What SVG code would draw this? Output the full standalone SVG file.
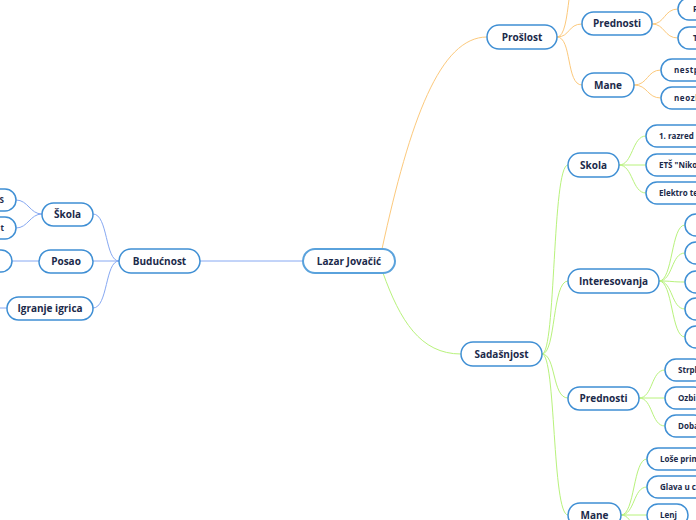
<svg xmlns="http://www.w3.org/2000/svg" width="696" height="520" viewBox="0 0 696 520">
<style>
.n rect{fill:#fff;stroke:#3f8fd4;stroke-width:1.5}
.root rect{stroke:#5aa2dc;stroke-width:2}
.t{font-family:"Open Sans","Noto Sans",sans-serif;font-weight:bold;font-size:10px;fill:#1b2a4a}
.s{font-family:"Open Sans","Noto Sans",sans-serif;font-weight:bold;font-size:8px;fill:#1b2a4a}
.c path{fill:none;stroke-width:1}
.o{stroke:#fcc97c}
.g{stroke:#b8f27c}
.b{stroke:#86a8f2}
</style>
<rect width="696" height="520" fill="#fff"/>
<g id="connectors" class="c">
<path class="o" d="M382 249 C410 120 440 37 487 37"/>
<path class="o" d="M557 37 C572 37 566 -40 582 -40"/>
<path class="o" d="M557 37 C570 37 568 24 582 24"/>
<path class="o" d="M557 37 C572 37 566 85 582 85"/>
<path class="o" d="M652 24 C665 24 664 9 678 9"/>
<path class="o" d="M652 24 C665 24 664 38 678 38"/>
<path class="o" d="M634 85 C648 85 647 70 661 70"/>
<path class="o" d="M634 85 C648 85 647 98 661 98"/>
<path class="g" d="M383 273 C400 320 420 354 461 354"/>
<path class="g" d="M542 354 C556 354 552 165 568 165"/>
<path class="g" d="M542 354 C556 354 552 281 568 281"/>
<path class="g" d="M542 354 C556 354 552 398 568 398"/>
<path class="g" d="M542 354 C556 354 552 515 568 515"/>
<path class="g" d="M619 165 C633 165 632 136 646 136"/>
<path class="g" d="M619 165 H646"/>
<path class="g" d="M619 165 C633 165 632 193 646 193"/>
<path class="g" d="M659 281 C673 281 671 225 685 225"/>
<path class="g" d="M659 281 C673 281 671 253 685 253"/>
<path class="g" d="M659 281 C673 281 671 282 685 282"/>
<path class="g" d="M659 281 C673 281 671 309 685 309"/>
<path class="g" d="M659 281 C673 281 671 337 685 337"/>
<path class="g" d="M639 398 C653 398 651 370 665 370"/>
<path class="g" d="M639 398 H665"/>
<path class="g" d="M639 398 C653 398 651 426 665 426"/>
<path class="g" d="M621 515 C635 515 633 459 647 459"/>
<path class="g" d="M621 515 C635 515 633 487 647 487"/>
<path class="g" d="M621 515 H647"/>
<path class="g" d="M621 515 C635 515 633 543 647 543"/>
<path class="b" d="M200 261 H303"/>
<path class="b" d="M119 261 C105 261 108 214 93 214"/>
<path class="b" d="M119 261 H93"/>
<path class="b" d="M119 261 C105 261 108 308 93 308"/>
<path class="b" d="M42 214 C30 214 28 200 16 200"/>
<path class="b" d="M42 214 C30 214 28 228 16 228"/>
<path class="b" d="M39 261 H12"/>
<path class="b" d="M7 308 H-5"/>
</g>
<g id="lazar" class="n root"><rect x="303" y="249" width="92" height="24" rx="12"/><text class="t" x="349" y="264.5" text-anchor="middle">Lazar Jovačić</text></g>
<g id="buducnost" class="n"><rect x="119" y="249" width="81" height="24" rx="12"/><text class="t" x="159.5" y="264.5" text-anchor="middle">Budućnost</text></g>
<g id="skola-b" class="n"><rect x="42" y="203" width="51" height="23" rx="11.5"/><text class="t" x="67.5" y="218" text-anchor="middle">Škola</text></g>
<g id="posao" class="n"><rect x="39" y="250" width="54" height="23" rx="11.5"/><text class="t" x="66" y="264.5" text-anchor="middle">Posao</text></g>
<g id="igranje" class="n"><rect x="7" y="297" width="86" height="23" rx="11.5"/><text class="t" x="50" y="312" text-anchor="middle">Igranje igrica</text></g>
<g id="skola-b1" class="n"><rect x="-40" y="189" width="56" height="22" rx="11"/><text class="s" x="4" y="203" text-anchor="end">S</text></g>
<g id="skola-b2" class="n"><rect x="-40" y="217" width="56" height="22" rx="11"/><text class="s" x="4" y="231" text-anchor="end">t</text></g>
<g id="posao-1" class="n"><rect x="-30" y="250" width="42" height="22" rx="11"/></g>
<g id="proslost" class="n"><rect x="487" y="25" width="70" height="24" rx="12"/><text class="t" x="522" y="40.5" text-anchor="middle">Prošlost</text></g>
<g id="prednosti-p" class="n"><rect x="582" y="12" width="70" height="23" rx="11.5"/><text class="t" x="617" y="27" text-anchor="middle">Prednosti</text></g>
<g id="pp1" class="n"><rect x="678" y="-2" width="40" height="22" rx="11"/><text class="s" x="693" y="12">P</text></g>
<g id="pp2" class="n"><rect x="678" y="27" width="40" height="22" rx="11"/><text class="s" x="693" y="41">T</text></g>
<g id="mane-p" class="n"><rect x="582" y="73" width="52" height="24" rx="12"/><text class="t" x="608" y="88.5" text-anchor="middle">Mane</text></g>
<g id="mp1" class="n"><rect x="661" y="59" width="50" height="22" rx="11"/><text class="s" x="674" y="73" letter-spacing="0.6">nestp</text></g>
<g id="mp2" class="n"><rect x="661" y="87" width="50" height="22" rx="11"/><text class="s" x="674" y="101" letter-spacing="0.6">neozl</text></g>
<g id="sadasnjost" class="n"><rect x="461" y="342" width="81" height="24" rx="12"/><text class="t" x="501.5" y="357.5" text-anchor="middle">Sadašnjost</text></g>
<g id="skola-s" class="n"><rect x="568" y="153" width="51" height="24" rx="12"/><text class="t" x="593.5" y="168.5" text-anchor="middle">Skola</text></g>
<g id="ss1" class="n"><rect x="646" y="125" width="60" height="22" rx="11"/><text class="s" x="659" y="139">1. razred</text></g>
<g id="ss2" class="n"><rect x="646" y="154" width="60" height="22" rx="11"/><text class="s" x="659" y="168">ETŠ "Niko</text></g>
<g id="ss3" class="n"><rect x="646" y="182" width="60" height="22" rx="11"/><text class="s" x="659" y="196">Elektro te</text></g>
<g id="interesovanja" class="n"><rect x="568" y="269" width="91" height="24" rx="12"/><text class="t" x="613.5" y="284.5" text-anchor="middle">Interesovanja</text></g>
<g id="i1" class="n"><rect x="685" y="214" width="30" height="22" rx="11"/></g>
<g id="i2" class="n"><rect x="685" y="242" width="30" height="22" rx="11"/></g>
<g id="i3" class="n"><rect x="685" y="271" width="30" height="22" rx="11"/></g>
<g id="i4" class="n"><rect x="685" y="298" width="30" height="22" rx="11"/></g>
<g id="i5" class="n"><rect x="685" y="326" width="30" height="22" rx="11"/></g>
<g id="prednosti-s" class="n"><rect x="568" y="387" width="71" height="23" rx="11.5"/><text class="t" x="603.5" y="402" text-anchor="middle">Prednosti</text></g>
<g id="ps1" class="n"><rect x="665" y="359" width="40" height="22" rx="11"/><text class="s" x="678" y="373">Strpl</text></g>
<g id="ps2" class="n"><rect x="665" y="387" width="40" height="22" rx="11"/><text class="s" x="678" y="401">Ozbi</text></g>
<g id="ps3" class="n"><rect x="665" y="415" width="40" height="22" rx="11"/><text class="s" x="678" y="429">Doba</text></g>
<g id="mane-s" class="n"><rect x="568" y="503" width="53" height="24" rx="12"/><text class="t" x="594.5" y="518.5" text-anchor="middle">Mane</text></g>
<g id="ms1" class="n"><rect x="647" y="448" width="60" height="22" rx="11"/><text class="s" x="660" y="462">Loše prim</text></g>
<g id="ms2" class="n"><rect x="647" y="476" width="60" height="22" rx="11"/><text class="s" x="660" y="490">Glava u c</text></g>
<g id="ms3" class="n"><rect x="647" y="504" width="41" height="22" rx="11"/><text class="s" x="660" y="518">Lenj</text></g>
</svg>
